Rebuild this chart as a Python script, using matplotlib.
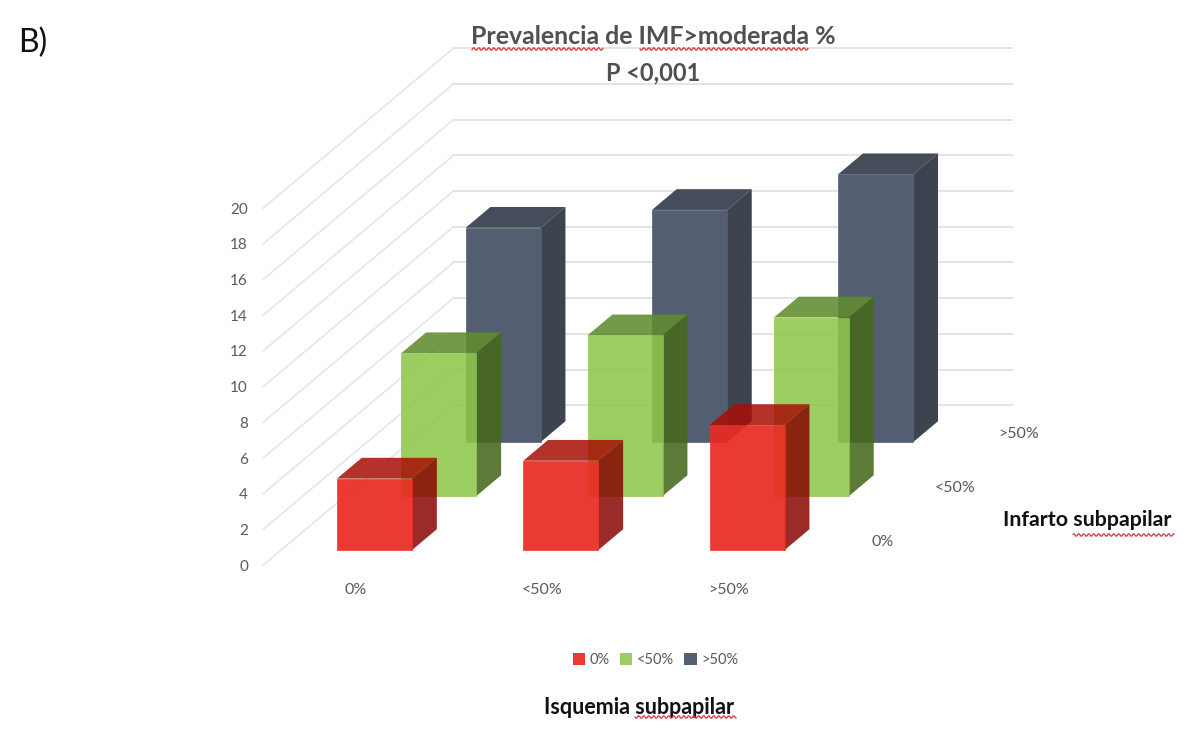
import numpy as np
import matplotlib
matplotlib.use("Agg")
import matplotlib.pyplot as plt
from matplotlib.colors import to_rgb
from matplotlib.patches import Polygon, Patch

plt.rcParams['font.family'] = ['Lato', 'DejaVu Sans']

isquemia = ['0%', '<50%', '>50%']
infarto = ['0%', '<50%', '>50%']
ticks = [0, 2, 4, 6, 8, 10, 12, 14, 16, 18, 20]

# one list per infarto row, front to back
prev_inf0 = [4, 5, 7]
prev_inf50 = [8, 9, 10]
prev_inf100 = [12, 13, 15]

# front, top, side colours as they look on white
red = ['#EA3A32', '#B5322B', '#9A2B28']
green = ['#9BCD60', '#739A47', '#5D7B37']
slate = ['#535E71', '#454C5A', '#3D4450']

grid_col = '#E4E4E4'
text_col = '#595959'

# oblique projection, the axes run in screen units
X0, Y0 = 337, 550
CAT_DX = 186.3
ROW_DX, ROW_DY = 64.3, 54
VAL_DY = 17.85
BAR_W = 0.403
BAR_D = 0.385


def proj(c, d, v):
    x = X0 + c * CAT_DX + d * ROW_DX
    y = Y0 - d * ROW_DY - v * VAL_DY
    return x, y


def see_through(col, alpha):
    # colour that gives col on white once drawn with this alpha
    return tuple(max(0, (p - (1 - alpha)) / alpha) for p in to_rgb(col))


def draw_bar(ax, c, d, v, cols, a_front, a_shade):
    c2 = c + BAR_W
    d2 = d + BAR_D
    z = 5 - d
    top = [proj(c, d, v), proj(c2, d, v), proj(c2, d2, v), proj(c, d2, v)]
    side = [proj(c2, d, 0), proj(c2, d, v), proj(c2, d2, v), proj(c2, d2, 0)]
    front = [proj(c, d, 0), proj(c2, d, 0), proj(c2, d, v), proj(c, d, v)]
    for pts, col, a in [(top, cols[1], a_shade), (side, cols[2], a_shade)]:
        ax.add_patch(Polygon(pts, fc=see_through(col, a), ec='none', alpha=a, zorder=z))
    # thin edge on the front face closes the seam to the shaded faces
    fc = see_through(cols[0], a_front)
    ax.add_patch(Polygon(front, fc=fc, ec=fc, lw=0.5, alpha=a_front, zorder=z))


def squiggle(ax, x1, x2, y):
    # spell checker underline
    xs = np.arange(x1, x2 + 0.5, 0.5)
    ax.plot(xs, y + 1.2 * np.sin(xs * 2 * np.pi / 5), color='#D8343A', lw=0.9, zorder=9)


fig = plt.figure(figsize=(12, 7.43), dpi=100)
ax = fig.add_axes([0, 0, 1, 1])
ax.set_xlim(0, 1200)
ax.set_ylim(743, 0)
ax.axis('off')

# walls
d_front, d_back = -0.28, 2.68
c_left = -0.3
for t in ticks:
    p1 = proj(c_left, d_front, t)
    p2 = proj(c_left, d_back, t)
    ax.plot([p1[0], p2[0]], [p1[1], p2[1]], color=grid_col, lw=1.1, zorder=1)
    ax.plot([p2[0], 1012], [p2[1], p2[1]], color=grid_col, lw=1.4, zorder=1)
    ax.text(248, p1[1] + 1.5, str(t), ha='right', va='center', fontsize=11, color=text_col)

# bars, back row first
rows = [(prev_inf100, slate, 2, 1.0, 1.0), (prev_inf50, green, 1, 0.88, 0.88), (prev_inf0, red, 0, 0.93, 0.85)]
for vals, cols, r, a_front, a_shade in rows:
    for i, v in enumerate(vals):
        draw_bar(ax, i, r, v, cols, a_front, a_shade)

for i, lab in enumerate(isquemia):
    x = proj(i, 0, 0)[0]
    ax.text(x + 19, 590, lab, ha='center', va='center', fontsize=11.5, color=text_col)
label_dx = [98, 106, 105]
for r, lab in enumerate(infarto):
    x, y = proj(2 + BAR_W, r, 0)
    ax.text(x + label_dx[r], y - 8.5, lab, ha='center', va='center', fontsize=11.5, color=text_col)

ax.text(653, 36, 'Prevalencia de IMF>moderada %', ha='center', va='center',
        fontsize=17.9, fontweight='bold', color='#505050', zorder=10)
ax.text(653, 73, 'P <0,001', ha='center', va='center',
        fontsize=17, fontweight='bold', color='#505050', zorder=10)
squiggle(ax, 472, 603, 49)
squiggle(ax, 640, 808, 49)

ax.text(18, 43, 'B)', ha='left', va='center', fontsize=23, color='#111111')
ax.text(639, 708, 'Isquemia subpapilar', ha='center', va='center',
        fontsize=15.5, fontweight='bold', color='#111111')
squiggle(ax, 635, 736, 717)
ax.text(1087, 520, 'Infarto subpapilar', ha='center', va='center',
        fontsize=15.4, fontweight='bold', color='#111111')
squiggle(ax, 1073, 1174, 535)

handles = [Patch(fc=red[0], label=isquemia[0]),
           Patch(fc=green[0], label=isquemia[1]),
           Patch(fc=slate[0], label=isquemia[2])]
leg = ax.legend(handles=handles, ncol=3, loc='center', bbox_to_anchor=(655.5, 660),
                bbox_transform=ax.transData, frameon=False, fontsize=10.5,
                handlelength=0.85, handleheight=0.85, handletextpad=0.3, columnspacing=0.7)
for t in leg.get_texts():
    t.set_color(text_col)

fig.savefig('out.png', dpi=100)
